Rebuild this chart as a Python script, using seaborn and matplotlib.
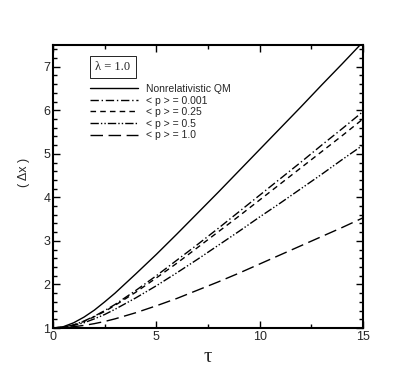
import numpy as np
import pandas as pd
import matplotlib
matplotlib.use("Agg")
import matplotlib.pyplot as plt
import seaborn as sns
from matplotlib.ticker import MultipleLocator

# data
tau = [0, 0.5, 1, 1.5, 2, 2.5, 3, 4, 5, 6, 7, 8, 9, 10, 11, 12, 13, 14, 15]
dx_nonrel = [1.00, 1.03, 1.12, 1.25, 1.41, 1.60, 1.80, 2.24, 2.69, 3.16,
             3.64, 4.12, 4.61, 5.10, 5.59, 6.08, 6.58, 7.07, 7.57]
dx_p0001 = [1.00, 1.02, 1.07, 1.16, 1.27, 1.40, 1.54, 1.86, 2.20, 2.56,
            2.92, 3.29, 3.67, 4.05, 4.43, 4.81, 5.20, 5.58, 5.97]
dx_p025 = [1.00, 1.02, 1.07, 1.15, 1.26, 1.38, 1.52, 1.82, 2.15, 2.49,
           2.85, 3.21, 3.57, 3.94, 4.31, 4.68, 5.05, 5.42, 5.80]
dx_p05 = [1.00, 1.01, 1.06, 1.12, 1.21, 1.31, 1.43, 1.69, 1.97, 2.27,
          2.58, 2.90, 3.22, 3.55, 3.87, 4.20, 4.53, 4.87, 5.20]
dx_p1 = [1.00, 1.01, 1.03, 1.06, 1.10, 1.15, 1.21, 1.35, 1.51, 1.68,
         1.87, 2.06, 2.26, 2.47, 2.68, 2.89, 3.10, 3.31, 3.53]

labels = ["Nonrelativistic QM", "< p > = 0.001", "< p > = 0.25",
          "< p > = 0.5", "< p > = 1.0"]
series = [dx_nonrel, dx_p0001, dx_p025, dx_p05, dx_p1]

df = pd.concat([pd.DataFrame({"tau": tau, "dx": s, "curve": lab})
                for lab, s in zip(labels, series)], ignore_index=True)

dash_map = {
    labels[0]: "",
    labels[1]: (6, 2, 1, 2),
    labels[2]: (4, 3),
    labels[3]: (6, 1.5, 1, 1.5, 1, 1.5),
    labels[4]: (9, 4),
}

sns.set_style("white")
plt.rcParams["font.family"] = ["Liberation Sans", "DejaVu Sans"]

fig = plt.figure(figsize=(4.15, 3.7), dpi=100)
ax = fig.add_axes([0.1277, 0.1135, 0.747, 0.765])

sns.lineplot(data=df, x="tau", y="dx", hue="curve", style="curve",
             palette=["black"] * 5, dashes=dash_map, linewidth=1.0,
             sort=False, ax=ax)

ax.set_xlim(0, 15)
ax.set_ylim(1, 7.5)
ax.xaxis.set_major_locator(MultipleLocator(5))
ax.xaxis.set_minor_locator(MultipleLocator(2.5))
ax.yaxis.set_major_locator(MultipleLocator(1))
ax.yaxis.set_minor_locator(MultipleLocator(0.2))
ax.tick_params(which="both", direction="in", top=True, right=True,
               bottom=True, left=True, labelsize=9, color="black", width=1)
ax.tick_params(which="major", length=5, pad=2)
ax.tick_params(which="minor", length=3)
for sp in ax.spines.values():
    sp.set_color("black")
    sp.set_linewidth(1.5)

ax.set_xlabel("τ", family=["Liberation Serif", "DejaVu Serif"], fontsize=15,
              labelpad=4)
ax.set_ylabel("( Δx )", fontsize=9)
ax.yaxis.set_label_coords(-0.075, 0.55)

handles, labs = ax.get_legend_handles_labels()
ax.legend(handles, labs, loc="upper left", bbox_to_anchor=(90 / 415, 1 - 84 / 370),
          bbox_transform=fig.transFigure, frameon=False, fontsize=7.5,
          handlelength=4.6, handletextpad=0.8, labelspacing=0.15,
          borderpad=0, borderaxespad=0)

fig.text(113 / 415, 1 - 67 / 370, "λ = 1.0", ha="center", va="center",
         family=["Liberation Serif", "DejaVu Serif"], fontsize=9,
         bbox=dict(boxstyle="square,pad=0.4", fc="white", ec="black", lw=0.6))

fig.savefig("out.png", dpi=100)
